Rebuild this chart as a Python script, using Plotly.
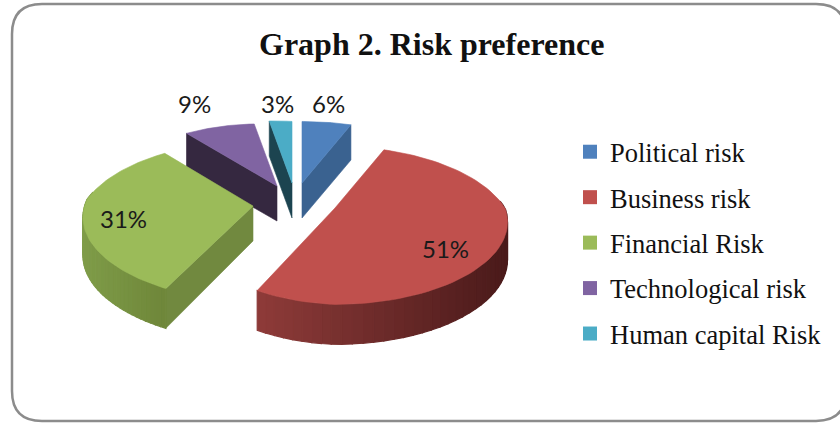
import math
import plotly.graph_objects as go

categories = ["Political risk", "Business risk", "Financial Risk", "Technological risk", "Human capital Risk"]
values = [6, 51, 31, 9, 3]
face_colors = ["#4F81BD", "#C0504D", "#9BBB59", "#8064A2", "#4BACC6"]
wall_colors = ["#3A6290", None, "#71893F", "#352840", "#1C4450"]
side_from = [None, "#8E3B39", "#7F9C49", None, None]
side_to = [None, "#4A1A1A", "#6E8639", None, None]

# Exploded apex of each slice on the page
apex = [(302, 183), (335, 208), (253, 206), (277, 186), (292, 183)]
left_scale = [1, 0.87, 0.975, 1, 1]
label_pos = [(328, 103), (445, 248), (123, 218), (194, 103), (277, 103)]

A, B, K_BACK, K_FRONT = 170, 80, 0.30, 0.17


def proj(t_deg, ax, ay, ls=1):
    t = math.radians(t_deg)
    c, s = math.cos(t), math.sin(t)
    w = 1 / (1 + (K_BACK if c > 0 else K_FRONT) * c)
    x, y = A * s * w, -B * c * w
    if s < 0:  # perspective skew of the left half
        x -= 10 * s * c
        y += 7 * s
        x *= ls
    return ax + x, ay + y


def depth(t_deg):
    return 37.5 - 2.5 * math.cos(math.radians(t_deg))


def mix(c1, c2, f):
    a = [int(c1[i:i + 2], 16) for i in (1, 3, 5)]
    b = [int(c2[i:i + 2], 16) for i in (1, 3, 5)]
    return "#%02X%02X%02X" % tuple(round(p + (q - p) * f) for p, q in zip(a, b))


def poly(xs, ys, color, lw=0.6):
    return go.Scatter(x=xs + xs[:1], y=ys + ys[:1], mode="lines", fill="toself", fillcolor=color,
                      line=dict(color=color, width=lw), hoverinfo="skip", showlegend=False)


total = sum(values)
starts, acc = [], 0
for v in values:
    starts.append(acc / total * 360)
    acc += v
ends = [s + v / total * 360 for s, v in zip(starts, values)]

fig = go.Figure()
for i in [3, 4, 0, 2, 1]:
    s, e = starts[i], ends[i]
    ax, ay = apex[i]
    ls = left_scale[i]
    # cut wall
    wall_t = {0: e, 2: s, 3: s, 4: s}.get(i)
    if wall_t is not None:
        x1, y1 = proj(wall_t, ax, ay, ls)
        d0, d1 = 35, depth(wall_t)
        fig.add_trace(poly([ax, x1, x1, ax], [ay, y1, y1 + d1, ay + d0], wall_colors[i]))
    # outer rim
    if side_from[i]:
        n = 40
        a0, a1 = max(s, 85), min(e, 275)
        xs = [proj(a0 + (a1 - a0) * k / n, ax, ay, ls)[0] for k in range(n + 1)]
        xmin, xmax = min(xs), max(xs)
        for k in range(n):
            t0 = a0 + (a1 - a0) * k / n
            t1 = a0 + (a1 - a0) * (k + 1) / n
            p0, p1 = proj(t0, ax, ay, ls), proj(t1, ax, ay, ls)
            f = ((p0[0] + p1[0]) / 2 - xmin) / (xmax - xmin)
            col = mix(side_from[i], side_to[i], f)
            fig.add_trace(poly([p0[0], p1[0], p1[0], p0[0]],
                               [p0[1], p1[1], p1[1] + depth(t1), p0[1] + depth(t0)], col, 1.2))
    # top face
    pts = [proj(s + (e - s) * k / 80, ax, ay, ls) for k in range(81)]
    fig.add_trace(poly([ax] + [p[0] for p in pts], [ay] + [p[1] for p in pts], face_colors[i]))

for i, name in enumerate(categories):
    fig.add_trace(go.Scatter(x=[None], y=[None], mode="markers", name=name, legendgroup=name,
                             marker=dict(symbol="square", size=14, color=face_colors[i]),
                             hoverinfo="skip"))

for v, (x, y) in zip(values, label_pos):
    fig.add_annotation(x=x, y=y, text=f"{v}%", showarrow=False,
                       font=dict(family="Lato", size=24, color="#1a1a1a"))

fig.add_annotation(x=431, y=44, text="<b>Graph 2. Risk preference</b>", showarrow=False,
                   font=dict(family="Liberation Serif", size=32, color="#111111"))

L, T, Rt, Bm, r = 12, 4, 846, 421, 30
fig.add_shape(type="path", xref="x", yref="y", layer="below",
              path=f"M{L + r},{T} L{Rt - r},{T} Q{Rt},{T} {Rt},{T + r} L{Rt},{Bm - r} Q{Rt},{Bm} {Rt - r},{Bm} "
                   f"L{L + r},{Bm} Q{L},{Bm} {L},{Bm - r} L{L},{T + r} Q{L},{T} {L + r},{T} Z",
              line=dict(color="#8C8C8C", width=2.5), fillcolor="white")

fig.update_layout(
    width=840, height=423, margin=dict(l=0, r=0, t=0, b=0),
    paper_bgcolor="white", plot_bgcolor="white",
    xaxis=dict(range=[0, 840], visible=False, fixedrange=True),
    yaxis=dict(range=[423, 0], visible=False, fixedrange=True),
    legend=dict(x=570 / 840, y=1 - 128 / 423, xanchor="left", yanchor="top", traceorder="grouped",
                tracegroupgap=8, bgcolor="rgba(0,0,0,0)",
                font=dict(family="Liberation Serif", size=26.5, color="#111111")),
)
fig.write_html("out.html", config={"displayModeBar": False},
               post_script="document.body.style.margin='0';document.documentElement.style.overflow='hidden';")
